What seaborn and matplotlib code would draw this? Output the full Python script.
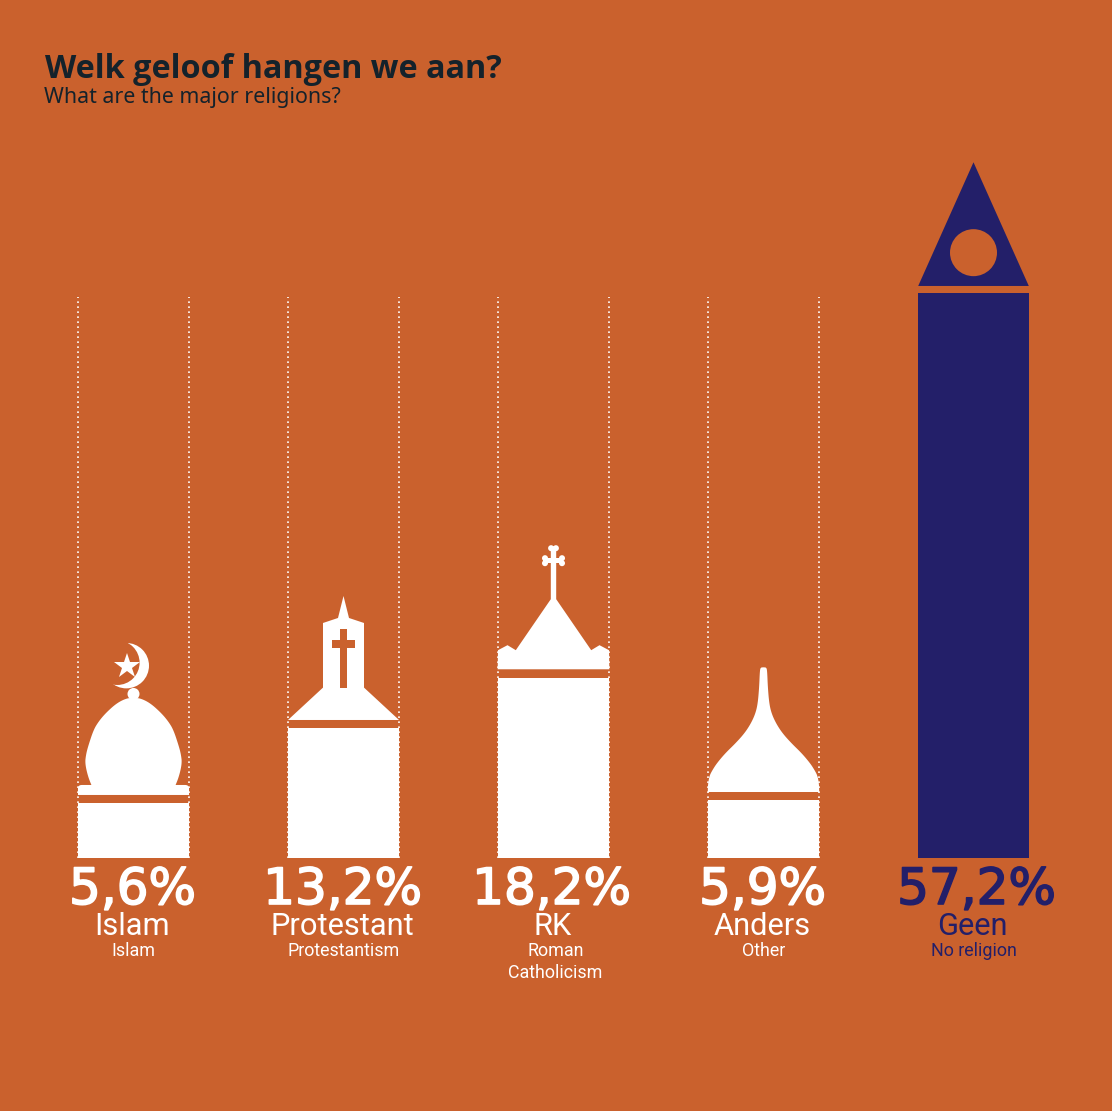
import numpy as np
import seaborn as sns
import matplotlib.pyplot as plt
import matplotlib.patheffects as pe
from matplotlib.patches import Polygon, Circle, Rectangle
from matplotlib.transforms import Affine2D

# data
namen = ["Islam", "Protestant", "RK", "Anders", "Geen"]
subnamen = [["Islam"], ["Protestantism"], ["Roman", "Catholicism"], ["Other"], ["No religion"]]
waarden = [5.6, 13.2, 18.2, 5.9, 57.2]
labels = ["5,6%", "13,2%", "18,2%", "5,9%", "57,2%"]

# colours
oranje = "#CA612D"
wit = "#FFFFFF"
blauw = "#231F69"
donker = "#14222B"
kleuren = [wit, wit, wit, wit, blauw]

sns.set_theme(style="white")
plt.rcParams["font.family"] = ["Roboto", "DejaVu Sans"]

fig = plt.figure(figsize=(11.12, 11.11), dpi=100, facecolor=oranje)
ax = fig.add_axes([0, 0, 1, 1])
sns.barplot(x=namen, y=waarden, hue=namen, palette=kleuren, saturation=1,
            width=0.5286, legend=False, linewidth=0, ax=ax)
ax.set_xlim(-133.5 / 210, (1112 - 133.5) / 210)
ax.set_ylim((858 - 1111) / 9.88, 858 / 9.88)
ax.axis("off")


def anker(i):
    # pixel offsets from the top middle of bar i, y goes up
    x0, y0 = ax.transData.transform((i, waarden[i]))
    return Affine2D().translate(x0, y0)


def glad(punten, n=3):
    # corner cutting, the end points stay where they are
    p = np.array(punten, dtype=float)
    for _ in range(n):
        q = np.empty((2 * len(p) - 2, 2))
        q[0::2] = 0.75 * p[:-1] + 0.25 * p[1:]
        q[1::2] = 0.25 * p[:-1] + 0.75 * p[1:]
        p = np.vstack([p[0], q, p[-1]])
    return [tuple(r) for r in p]


def spiegel(helft):
    # helft runs from bottom to top on the right hand side
    rechts = list(helft)
    links = [(-x, y) for x, y in reversed(helft)]
    return rechts + links


def vorm(i, punten, kleur):
    ax.add_patch(Polygon(punten, closed=True, fc=kleur, ec="none", transform=anker(i)))


def rondje(i, x, y, r, kleur):
    ax.add_patch(Circle((x, y), r, fc=kleur, ec="none", transform=anker(i)))


def blok(i, x0, x1, y0, y1, kleur):
    ax.add_patch(Rectangle((x0, y0), x1 - x0, y1 - y0, fc=kleur, ec="none", transform=anker(i)))


# dotted guides along the first four bars
gids_top = (858 - 297) / 9.88
for i in range(4):
    for kant in (-0.5286 / 2, 0.5286 / 2):
        ax.plot([i + kant, i + kant], [0, gids_top], color=wit, lw=1.2,
                linestyle=(0, (1, 2)), zorder=3)

# moskee
vorm(0, [(-55.5, 7.7)] + glad([(-55.5, 11), (-55.5, 17.7), (-47, 17.7)]) + glad([(47, 17.7), (55.5, 17.7), (55.5, 11)]) + [(55.5, 7.7)], wit)
vorm(0, spiegel(glad([(41, 15), (45.5, 26), (48.5, 39.4), (47.5, 48), (45.5, 56), (40, 72.7), (35, 81),
                      (28, 89.4), (17, 99.4), (7, 104.4), (0, 104.8)])), wit)
rondje(0, 0, 108.7, 6, wit)
rondje(0, -7.2, 137, 22.7, wit)
rondje(0, -16.2, 140, 22.3, oranje)
ax.plot([-6.8], [136.7], marker="*", ms=19, mfc=wit, mew=0, transform=anker(0), zorder=4)

# kerk met toren
vorm(1, spiegel([(55.5, 7.6), (20.5, 40), (20.5, 104.6), (5.5, 109.6), (0, 131.6)]), wit)
blok(1, -3.5, 3.8, 40, 98.6, oranje)
blok(1, -11.2, 11.5, 79.9, 87.6, oranje)

# kathedraal
vorm(2, spiegel([(55.8, 8.9), (55.5, 28), (46, 33), (37.7, 28), (2.7, 79), (2.7, 132)]), wit)
blok(2, -10, 10, 114.8, 120.2, wit)
for x, y in [(-8.5, 120), (-8.5, 115), (8.5, 120), (8.5, 115), (-2.4, 130), (2.4, 130)]:
    rondje(2, x, y, 3, wit)

# koepel
vorm(3, spiegel(glad([(55.7, 7.7), (55.5, 16), (54, 24), (51, 29.7), (46.7, 36.4), (38.3, 46.4), (28, 56.4),
                      (19, 66.4), (12.5, 76.4), (8, 86.4), (5.7, 96.4), (4.3, 113), (3.7, 128), (3, 132.2), (0, 132.4)])), wit)

# toren zonder geloof
vorm(4, spiegel([(55.3, 6.9), (0, 130.6)]), blauw)
rondje(4, 0, 40.2, 23.5, oranje)

# texts under the bars, offsets in pixels from the baseline
label_dx = [-1, -1, -2, -1, 3]
for i, naam in enumerate(namen):
    kleur = kleuren[i]
    t = ax.annotate(labels[i], xy=(i, 0), xytext=(label_dx[i], -46), textcoords="offset pixels",
                    ha="center", va="baseline", color=kleur, fontsize=36,
                    family="DejaVu Sans")
    t.set_path_effects([pe.withStroke(linewidth=1.2, foreground=kleur)])
    ax.annotate(naam, xy=(i, 0), xytext=(-1, -77), textcoords="offset pixels",
                ha="center", va="baseline", color=kleur, fontsize=22.2)
    for k, regel in enumerate(subnamen[i]):
        ax.annotate(regel, xy=(i, 0), xytext=(2 if i == 2 else 0, -98 - 22 * k),
                    textcoords="offset pixels", ha="center", va="baseline",
                    color=kleur, fontsize=12.9)

fig.text(45 / 1112, 1 - 78 / 1111, "Welk geloof hangen we aan?", color=donker, fontsize=23.3,
         fontweight="bold", family="Open Sans")
fig.text(44 / 1112, 1 - 103 / 1111, "What are the major religions?", color=donker, fontsize=15.4,
         family="Noto Sans")

fig.savefig("out.png", dpi=100, facecolor=oranje)
